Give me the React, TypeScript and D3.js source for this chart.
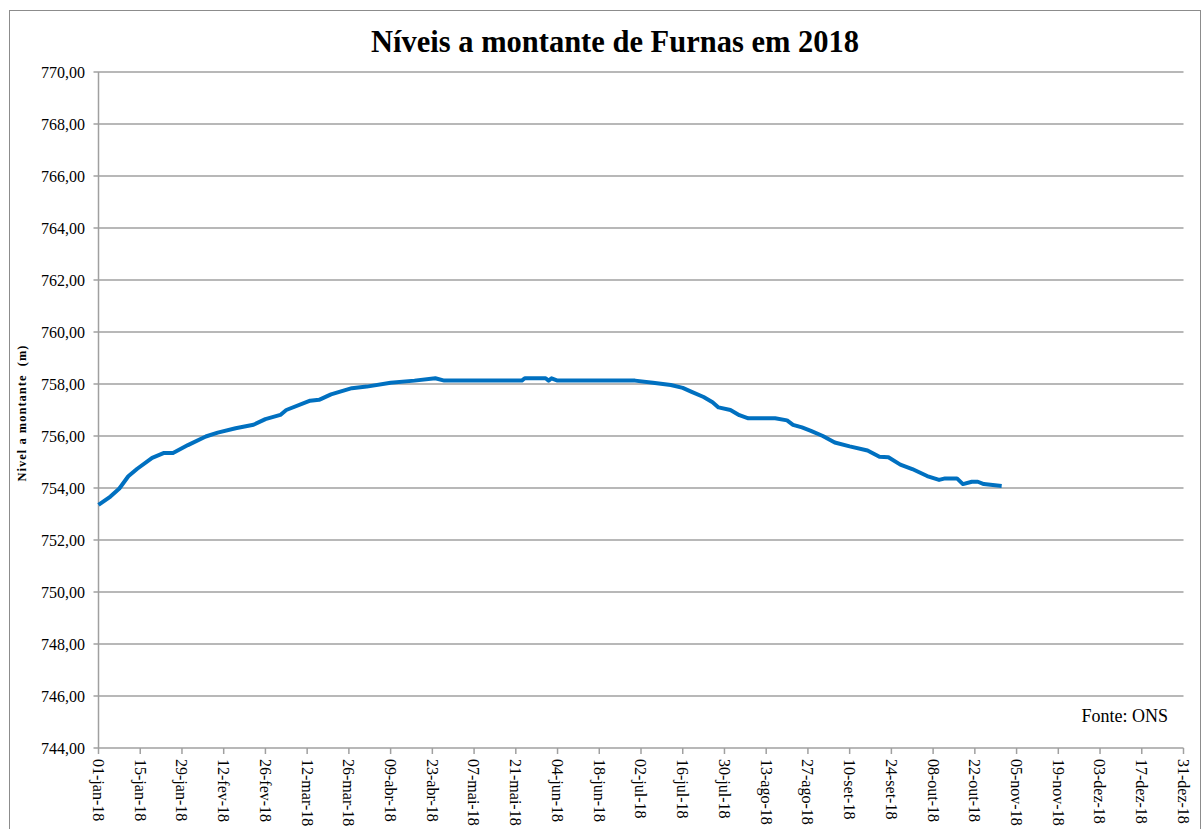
import React from "react";
import * as d3 from "d3";

// leituras aproximadas do gráfico (nível a montante, m)
const dates = [
  "2018-01-01", "2018-01-05", "2018-01-08", "2018-01-11", "2018-01-14", "2018-01-19",
  "2018-01-23", "2018-01-26", "2018-01-31", "2018-02-06", "2018-02-10", "2018-02-16",
  "2018-02-22", "2018-02-26", "2018-03-03", "2018-03-05", "2018-03-13", "2018-03-16",
  "2018-03-20", "2018-03-27", "2018-04-01", "2018-04-09", "2018-04-17", "2018-04-24",
  "2018-04-27", "2018-05-23", "2018-05-24", "2018-05-31", "2018-06-01", "2018-06-02",
  "2018-06-04", "2018-06-30", "2018-07-06", "2018-07-12", "2018-07-16", "2018-07-19",
  "2018-07-23", "2018-07-26", "2018-07-28", "2018-08-01", "2018-08-04", "2018-08-07",
  "2018-08-16", "2018-08-20", "2018-08-22", "2018-08-25", "2018-08-28", "2018-09-01",
  "2018-09-05", "2018-09-10", "2018-09-16", "2018-09-20", "2018-09-23", "2018-09-27",
  "2018-10-01", "2018-10-06", "2018-10-10", "2018-10-12", "2018-10-16", "2018-10-18",
  "2018-10-21", "2018-10-23", "2018-10-25", "2018-10-31",
];
const levels = [
  753.35, 753.67, 753.98, 754.45, 754.74, 755.16,
  755.35, 755.35, 755.65, 755.98, 756.13, 756.3,
  756.43, 756.65, 756.81, 757.0, 757.36, 757.39,
  757.6, 757.84, 757.9, 758.05, 758.13, 758.22,
  758.13, 758.13, 758.22, 758.22, 758.13, 758.22,
  758.13, 758.13, 758.05, 757.96, 757.85, 757.7,
  757.5, 757.3, 757.1, 757.0, 756.8, 756.68,
  756.68, 756.6, 756.43, 756.33, 756.2, 756.0,
  755.75, 755.6, 755.44, 755.2, 755.18, 754.9,
  754.73, 754.46, 754.31, 754.37, 754.37, 754.15,
  754.24, 754.24, 754.15, 754.08,
];
const yTicks = [744, 746, 748, 750, 752, 754, 756, 758, 760, 762, 764, 766, 768, 770];
const months = ["jan", "fev", "mar", "abr", "mai", "jun", "jul", "ago", "set", "out", "nov", "dez"];

const W = 1202;
const H = 829;
const serif = "Liberation Serif, Times New Roman, serif";

export default function App() {
  const parse = d3.utcParse("%Y-%m-%d");
  const start = parse("2018-01-01") as Date;
  const end = parse("2018-12-31") as Date;
  const x = d3.scaleUtc().domain([start, end]).range([98.5, 1183.5]);
  const y = d3.scaleLinear().domain([744, 770]).range([748, 72]);

  const xTicks = d3.range(0, 27).map((i) => d3.utcDay.offset(start, i * 14));
  const fmtX = (d: Date) =>
    `${d3.utcFormat("%d")(d)}-${months[d.getUTCMonth()]}-${d3.utcFormat("%y")(d)}`;
  const fmtY = (v: number) => v.toFixed(2).replace(".", ",");

  const pts = dates.map((d, i) => ({ date: parse(d) as Date, v: levels[i] }));
  const line = d3
    .line<{ date: Date; v: number }>()
    .x((p) => x(p.date))
    .y((p) => y(p.v));

  const [x0, x1] = x.range();

  return (
    <svg
      width={W}
      height={H}
      style={{ position: "absolute", left: 0, top: 0, background: "#fff", fontFamily: serif }}
    >
      <rect x={9.5} y={10.5} width={1191} height={840} fill="#fff" stroke="#8c8c8c" strokeWidth={1} />

      <text x={615} y={52} textAnchor="middle" fontSize={30.5} fontWeight="bold" style={{ fontFamily: serif }}>
        Níveis a montante de Furnas em 2018
      </text>

      {yTicks.map((t) => (
        <g key={t}>
          <line x1={x0 - 5} x2={x1} y1={y(t)} y2={y(t)} stroke="#a0a0a0" strokeWidth={1.5} />
          <text x={85} y={y(t)} dy="0.35em" textAnchor="end" fontSize={16} style={{ fontFamily: serif }}>
            {fmtY(t)}
          </text>
        </g>
      ))}

      <line x1={x0} x2={x0} y1={y(770)} y2={y(744)} stroke="#a0a0a0" strokeWidth={1.5} />

      {xTicks.map((d, i) => (
        <g key={i} transform={`translate(${x(d)},${y(744)})`}>
          <line y1={0} y2={6} stroke="#a0a0a0" strokeWidth={1.5} />
          <text
            transform="translate(0,11) rotate(90)"
            dy="0.35em"
            fontSize={16}
            style={{ fontFamily: serif }}
          >
            {fmtX(d)}
          </text>
        </g>
      ))}

      <text
        transform={`translate(26,${(y(744) + y(770)) / 2 + 3}) rotate(-90)`}
        textAnchor="middle"
        fontSize={12.5}
        fontWeight="bold"
        letterSpacing={1}
        style={{ fontFamily: serif, whiteSpace: "pre" }}
      >
        Nivel a montante  (m)
      </text>

      <text x={1168} y={722} textAnchor="end" fontSize={18} style={{ fontFamily: serif }}>
        Fonte: ONS
      </text>

      <path d={line(pts) ?? ""} fill="none" stroke="#0070C0" strokeWidth={4} strokeLinejoin="round" />
    </svg>
  );
}
